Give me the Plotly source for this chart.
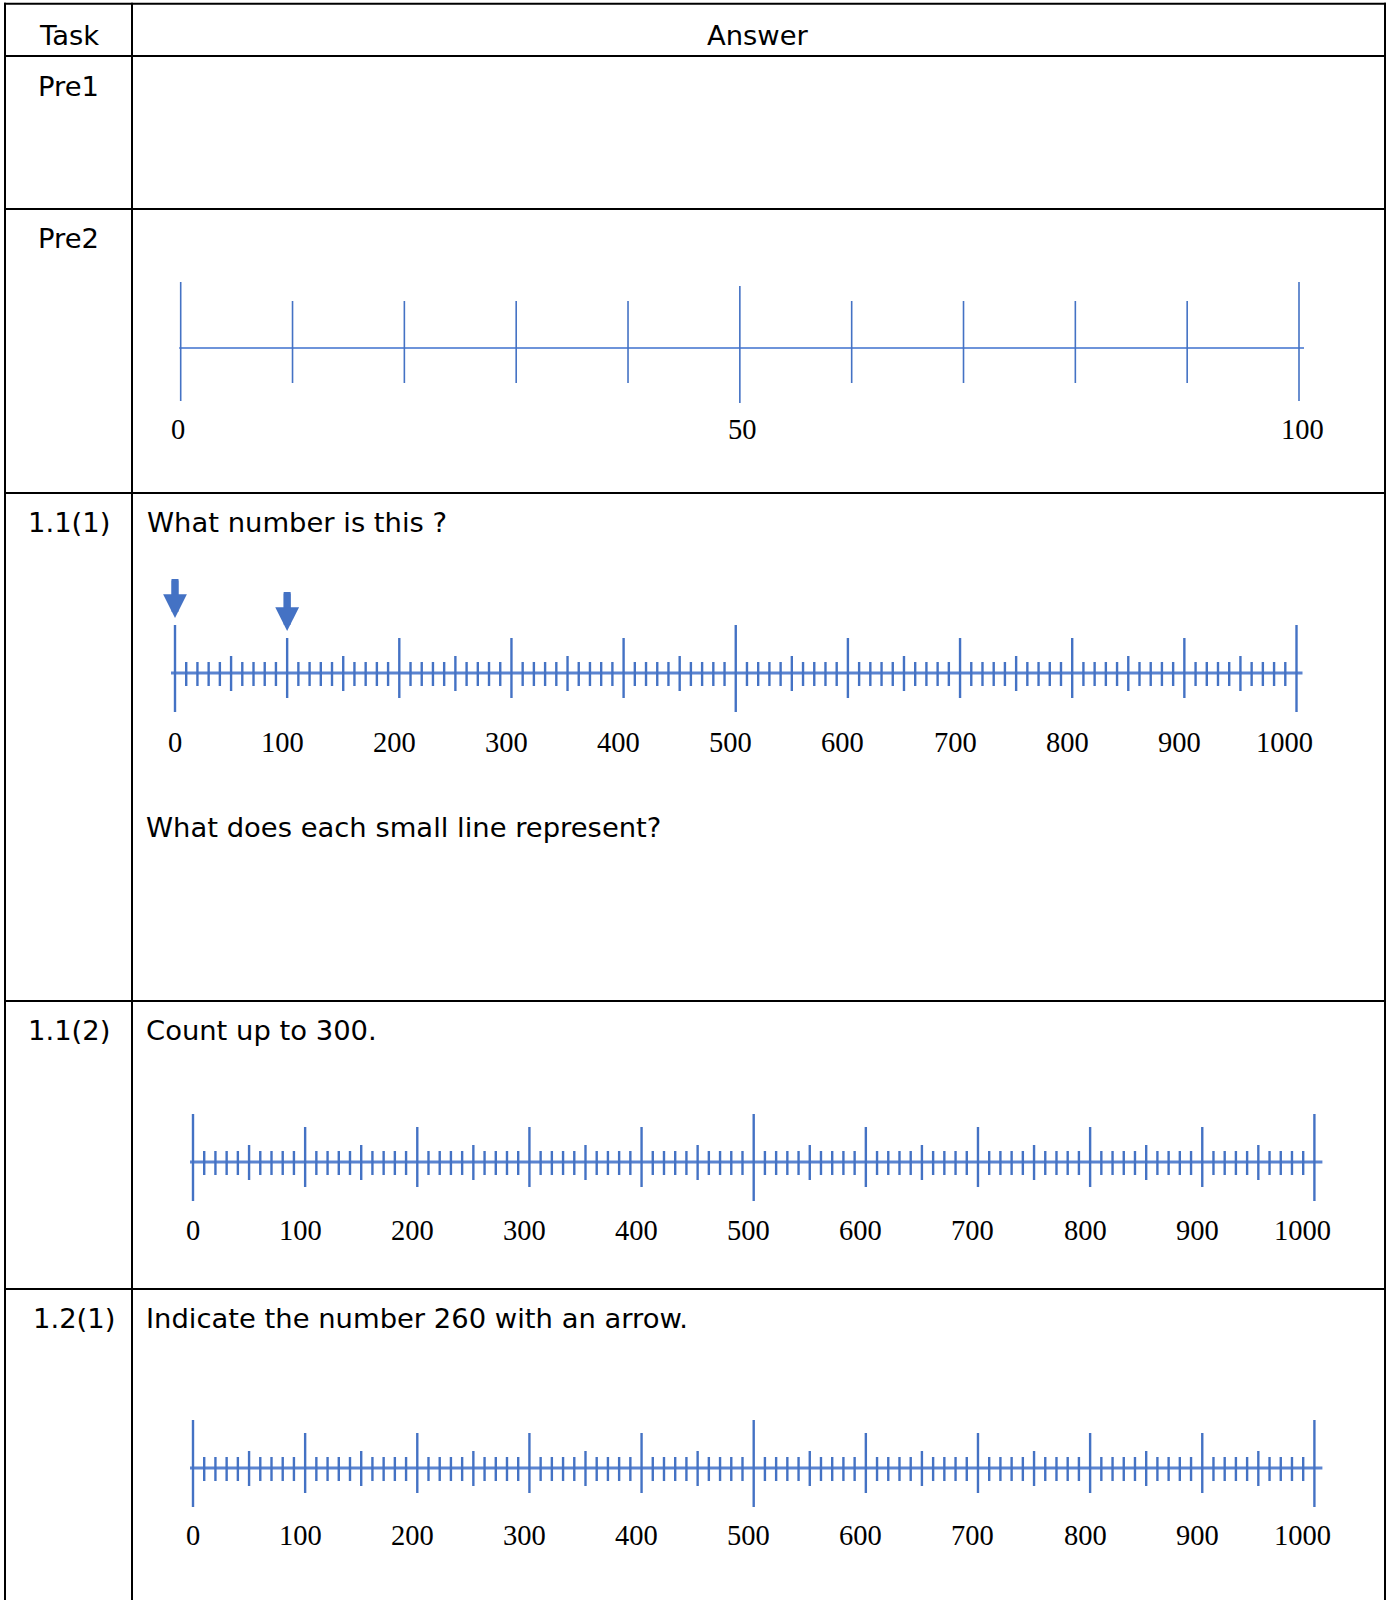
import plotly.graph_objects as go

W, H = 1391, 1600

# ---------------- data ----------------
task_labels = ["Task", "Pre1", "Pre2", "1.1(1)", "1.1(2)", "1.2(1)"]
answer_header = "Answer"
prompt_1_1_1a = "What number is this ?"
prompt_1_1_1b = "What does each small line represent?"
prompt_1_1_2 = "Count up to 300."
prompt_1_2_1 = "Indicate the number 260 with an arrow."

# Pre2 number line (0..100)
pre2_ends = [0, 100]
pre2_mid = [50]
pre2_minor = [10, 20, 30, 40, 60, 70, 80, 90]
pre2_labels = [0, 50, 100]

# 0..1000 number lines
line_ends = [0, 500, 1000]
line_hundreds = [100, 200, 300, 400, 600, 700, 800, 900]
line_fifties = [50, 150, 250, 350, 450, 550, 650, 750, 850, 950]
line_tens = [v for v in range(0, 1001, 10) if v % 50 != 0]
line_labels = [0, 100, 200, 300, 400, 500, 600, 700, 800, 900, 1000]
arrow_values = [0, 100]

# ---------------- layout constants ----------------
BLUE = "#4472C4"
AXIS_BLUE = "#5B84D0"
SANS = "DejaVu Sans"
SERIF = "Liberation Serif"
TXT = 27.4
NUM = 28.5

row_lines = [3.7, 56, 209, 493, 1001, 1289]
col_lines = [5, 132, 1385]

fig = go.Figure()


def px_axis(p0, p1, v0, v1):
    k = (v1 - v0) / (p1 - p0)
    return [v0 - p0 * k, v0 + (W - p0) * k], k


lines_spec = [
    dict(ax="x2", v0=0, v1=100, p0=180.7, p1=1299, y=348, ly=429, ext=(1.5, 5)),
    dict(ax="x3", v0=0, v1=1000, p0=175, p1=1296.5, y=673, ly=742, ext=(4, 6)),
    dict(ax="x4", v0=0, v1=1000, p0=193, p1=1314.4, y=1162, ly=1230, ext=(3, 8)),
    dict(ax="x5", v0=0, v1=1000, p0=193, p1=1314.4, y=1468, ly=1535, ext=(3, 8)),
]

layout_axes = {}
for s in lines_spec:
    rng, k = px_axis(s["p0"], s["p1"], s["v0"], s["v1"])
    s["k"] = k
    layout_axes["xaxis" + s["ax"][1:]] = dict(range=rng, domain=[0, 1], visible=False,
                                              anchor="y", fixedrange=True)


def tick_trace(axis, values, yline, up, down, color, width):
    xs, ys = [], []
    for v in values:
        xs += [v, v, None]
        ys += [yline - up, yline + down, None]
    return go.Scatter(x=xs, y=ys, xaxis=axis, yaxis="y", mode="lines",
                      line=dict(color=color, width=width), hoverinfo="skip",
                      showlegend=False)


def axis_trace(s, color, width):
    e0, e1 = s["ext"]
    return go.Scatter(x=[s["v0"] - e0 * s["k"], s["v1"] + e1 * s["k"]], y=[s["y"], s["y"]],
                      xaxis=s["ax"], yaxis="y", mode="lines",
                      line=dict(color=color, width=width), hoverinfo="skip",
                      showlegend=False)


# Pre2
s = lines_spec[0]
fig.add_trace(axis_trace(s, "#6E94DA", 2))
fig.add_trace(tick_trace(s["ax"], pre2_ends, s["y"], 66, 53, BLUE, 1.6))
fig.add_trace(tick_trace(s["ax"], pre2_mid, s["y"], 62, 55, BLUE, 1.6))
fig.add_trace(tick_trace(s["ax"], pre2_minor, s["y"], 47, 35, BLUE, 1.6))

# 0..1000 lines
for s in lines_spec[1:]:
    fig.add_trace(axis_trace(s, AXIS_BLUE, 3))
    fig.add_trace(tick_trace(s["ax"], line_tens, s["y"], 11, 13, BLUE, 2.4))
    fig.add_trace(tick_trace(s["ax"], line_fifties, s["y"], 17, 18, BLUE, 2.4))
    fig.add_trace(tick_trace(s["ax"], line_hundreds, s["y"], 35, 25, BLUE, 2.4))
    fig.add_trace(tick_trace(s["ax"], line_ends, s["y"], 48, 39, BLUE, 2.4))

annotations = []
# number labels
s = lines_spec[0]
for v in pre2_labels:
    annotations.append(dict(x=v, y=s["ly"], xref=s["ax"], yref="y", text=str(v),
                            showarrow=False, xanchor="center", yanchor="middle",
                            xshift=-3 if v == 0 else 3,
                            font=dict(family=SERIF, size=NUM, color="black")))
for s in lines_spec[1:]:
    for v in line_labels:
        shift = 0 if v == 0 else (-12 if v == 1000 else -5)
        annotations.append(dict(x=v, y=s["ly"], xref=s["ax"], yref="y", text=str(v),
                                showarrow=False, xanchor="center", yanchor="middle",
                                xshift=shift,
                                font=dict(family=SERIF, size=NUM, color="black")))

# arrows in 1.1(1): thick shaft + triangular head
s = lines_spec[1]
for v in arrow_values:
    top = 48 if v in line_ends else 35
    tip = s["y"] - top - 7
    fig.add_trace(go.Scatter(x=[v, v], y=[tip - 39, tip - 18], xaxis=s["ax"], yaxis="y",
                             mode="lines", line=dict(color=BLUE, width=7),
                             hoverinfo="skip", showlegend=False))
    annotations.append(dict(x=v, y=tip, xref=s["ax"], yref="y", text="",
                            showarrow=True, arrowhead=2, arrowsize=0.68, arrowwidth=7,
                            arrowcolor=BLUE, ax=0, ay=-39, standoff=0))

# table text
task_pos = [(68.5, 35), (68, 86), (68, 238), (69, 522), (69, 1030), (74, 1318)]
for t, (x, y) in zip(task_labels, task_pos):
    annotations.append(dict(x=x, y=y, xref="x", yref="y", text=t, showarrow=False,
                            xanchor="center", yanchor="middle",
                            font=dict(family=SANS, size=TXT, color="black")))
annotations.append(dict(x=758, y=35, xref="x", yref="y", text=answer_header, showarrow=False,
                        xanchor="center", yanchor="middle",
                        font=dict(family=SANS, size=TXT, color="black")))
for t, (x, y) in zip([prompt_1_1_1a, prompt_1_1_1b, prompt_1_1_2, prompt_1_2_1],
                     [(145, 522), (144, 827), (144, 1030), (144, 1318)]):
    annotations.append(dict(x=x, y=y, xref="x", yref="y", text=t, showarrow=False,
                            xanchor="left", yanchor="middle",
                            font=dict(family=SANS, size=TXT, color="black")))

# table grid
shapes = []
for yy in row_lines:
    shapes.append(dict(type="line", xref="x", yref="y", x0=col_lines[0] - 1, x1=col_lines[2] + 1,
                       y0=yy, y1=yy, line=dict(color="black", width=2)))
for xx in col_lines:
    shapes.append(dict(type="line", xref="x", yref="y", x0=xx, x1=xx,
                       y0=row_lines[0] - 1, y1=H, line=dict(color="black", width=2)))

fig.update_layout(
    width=W, height=H,
    margin=dict(l=0, r=0, t=0, b=0, pad=0),
    paper_bgcolor="white", plot_bgcolor="rgba(0,0,0,0)",
    xaxis=dict(range=[0, W], domain=[0, 1], visible=False, fixedrange=True),
    yaxis=dict(range=[H, 0], domain=[0, 1], visible=False, fixedrange=True),
    annotations=annotations, shapes=shapes, showlegend=False,
    **layout_axes,
)

fig.write_html("out.html", config={"displayModeBar": False},
               post_script="document.body.style.margin='0';document.body.style.overflow='hidden';")
